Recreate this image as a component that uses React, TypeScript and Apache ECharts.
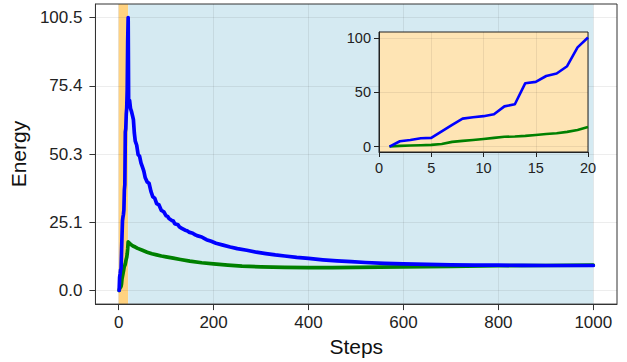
import React, { useEffect, useRef } from "react";
import * as echarts from "echarts";

// ---- data ----
const insetSteps = [1, 2, 3, 4, 5, 6, 7, 8, 9, 10, 11, 12, 13, 14, 15, 16, 17, 18, 19, 20];
const insetBlue = [0, 4.9, 6.1, 7.6, 8, 14, 20, 25.7, 27, 28, 29.7, 37, 39, 58.4, 59.6, 65, 67.3, 74, 91.4, 100.52];
const insetGreen = [0, 0.6, 1, 1.2, 1.5, 2.4, 4.3, 5.2, 6.1, 7, 8, 9, 9.2, 9.8, 10.7, 11.6, 12.2, 13.5, 15.3, 17.9];

const blueDecaySteps = [21, 23, 25, 27, 29, 31, 33, 35, 38, 41, 44, 47, 50, 53, 56, 60, 64, 68, 72, 76, 80, 85, 90, 95, 100, 103, 106, 112, 115, 118, 125, 128, 132, 140, 144, 148, 156, 160, 165, 175, 180, 185, 195, 205, 220, 235, 250, 270, 290, 310, 330, 350, 375, 400, 430, 460, 490, 520, 560, 600, 650, 700, 750, 800, 850, 900, 950, 1000];
const blueDecayValues = [69, 70, 67, 66, 64.5, 63, 58, 55, 53.5, 50, 49.5, 47, 45.5, 44, 41.5, 40, 39.5, 36.5, 34.5, 34, 32, 31.5, 29.5, 29, 27.5, 27.3, 26.5, 25.8, 25.6, 24.6, 24.2, 23.4, 23, 22.2, 22, 21.5, 21.1, 20.6, 20.2, 19.7, 19.2, 18.7, 18.1, 17.4, 16.7, 16.0, 15.4, 14.8, 14.1, 13.6, 13.1, 12.7, 12.2, 11.8, 11.3, 10.9, 10.6, 10.3, 10.0, 9.8, 9.6, 9.45, 9.35, 9.3, 9.25, 9.2, 9.2, 9.2];

const greenDecaySteps = [22, 25, 30, 35, 40, 50, 60, 70, 80, 90, 100, 115, 130, 150, 175, 200, 230, 260, 300, 350, 400, 450, 500, 600, 700, 800, 900, 1000];
const greenDecayValues = [17.5, 17.0, 16.4, 16.0, 15.5, 14.8, 14.1, 13.5, 13.1, 12.7, 12.4, 11.9, 11.4, 10.8, 10.2, 9.8, 9.35, 9.0, 8.7, 8.5, 8.45, 8.45, 8.5, 8.7, 8.9, 9.1, 9.2, 9.3];

const xTicks = [0, 200, 400, 600, 800, 1000];
const yTicks = [0, 25.13, 50.26, 75.39, 100.52];
const insetYTicks = [0, 50, 100];
const spanEdges = [0, 20, 1000];

// ---- axis ranges ----
const X_MIN = -48.95;
const X_MAX = 1049.95;
const Y_MIN = -5.026;
const Y_MAX = 105.546;
const IX_MIN = 0;
const IX_MAX = 20;

const FONT = "Liberation Sans, Arial, sans-serif";

export default function App() {
  const ref = useRef<HTMLDivElement>(null);

  useEffect(() => {
    if (!ref.current) return;
    const chart = echarts.init(ref.current, undefined, { renderer: "svg" });

    const insetBluePairs = insetSteps.map((s, i) => [s, insetBlue[i]]);
    const insetGreenPairs = insetSteps.map((s, i) => [s, insetGreen[i]]);
    const mainBlue = insetBluePairs.concat(blueDecaySteps.map((s, i) => [s, blueDecayValues[i]]));
    const mainGreen = insetGreenPairs.concat(greenDecaySteps.map((s, i) => [s, greenDecayValues[i]]));

    const gridLine = { show: true, lineStyle: { color: "rgba(0,0,0,0.07)", width: 1 } };

    chart.setOption({
      animation: false,
      grid: [
        {
          left: 95, right: 10, top: 4, bottom: 57,
          show: true, borderColor: "#333", borderWidth: 1,
          backgroundColor: "transparent", z: 3,
        },
        {
          left: 379, right: 39, top: 32, bottom: 210,
          show: true, borderColor: "#222", borderWidth: 1,
          backgroundColor: "#FEE4B4", z: 5,
        },
      ],
      xAxis: [
        {
          type: "value", gridIndex: 0, min: X_MIN, max: X_MAX, z: 3,
          axisLine: { show: true, onZero: false, lineStyle: { color: "#333" } },
          axisTick: { show: true, customValues: xTicks, length: 6, lineStyle: { color: "#333" } },
          axisLabel: {
            customValues: xTicks, fontSize: 17, color: "#222", margin: 10, fontFamily: FONT,
            formatter: (v: number) => String(v),
          },
          splitLine: gridLine,
          name: "Steps", nameLocation: "middle", nameGap: 29,
          nameTextStyle: { fontSize: 21, color: "#111", fontFamily: FONT },
        },
        {
          type: "value", gridIndex: 1, min: IX_MIN, max: IX_MAX, interval: 5, z: 6,
          axisLine: { show: true, onZero: false, lineStyle: { color: "#222" } },
          axisTick: { show: true, length: 5, lineStyle: { color: "#222" } },
          axisLabel: { fontSize: 14.5, color: "#222", margin: 8, fontFamily: FONT },
          splitLine: gridLine,
        },
      ],
      yAxis: [
        {
          type: "value", gridIndex: 0, min: Y_MIN, max: Y_MAX, z: 3,
          axisLine: { show: true, onZero: false, lineStyle: { color: "#333" } },
          axisTick: { show: true, customValues: yTicks, length: 6, lineStyle: { color: "#333" } },
          axisLabel: {
            customValues: yTicks, fontSize: 17, color: "#222", margin: 13, fontFamily: FONT,
            formatter: (v: number) => v.toFixed(1),
          },
          splitLine: gridLine,
          name: "Energy", nameLocation: "middle", nameGap: 51,
          nameTextStyle: { fontSize: 21, color: "#111", fontFamily: FONT },
        },
        {
          type: "value", gridIndex: 1, min: Y_MIN, max: Y_MAX, z: 6,
          axisLine: { show: true, onZero: false, lineStyle: { color: "#222" } },
          axisTick: { show: true, customValues: insetYTicks, length: 5, lineStyle: { color: "#222" } },
          axisLabel: { customValues: insetYTicks, fontSize: 14.5, color: "#222", margin: 8, fontFamily: FONT },
          splitLine: gridLine,
        },
      ],
      series: [
        {
          type: "line", xAxisIndex: 0, yAxisIndex: 0, data: [], z: 1, silent: true,
          markArea: {
            silent: true,
            data: [
              [
                { xAxis: spanEdges[0], yAxis: Y_MIN, itemStyle: { color: "#FFD280" } },
                { xAxis: spanEdges[1], yAxis: Y_MAX },
              ],
              [
                { xAxis: spanEdges[1], yAxis: Y_MIN, itemStyle: { color: "#D5EAF2" } },
                { xAxis: spanEdges[2], yAxis: Y_MAX },
              ],
            ],
          },
        },
        {
          type: "line", xAxisIndex: 0, yAxisIndex: 0, data: mainGreen, z: 4,
          showSymbol: false, symbol: "none",
          lineStyle: { color: "#008000", width: 3.7, join: "round", cap: "round" },
        },
        {
          type: "line", xAxisIndex: 0, yAxisIndex: 0, data: mainBlue, z: 4,
          showSymbol: false, symbol: "none",
          lineStyle: { color: "#0000FF", width: 3.7, join: "round", cap: "round" },
        },
        {
          type: "line", xAxisIndex: 1, yAxisIndex: 1, data: insetGreenPairs, z: 7,
          showSymbol: false, symbol: "none",
          lineStyle: { color: "#008000", width: 2.6, join: "round" },
        },
        {
          type: "line", xAxisIndex: 1, yAxisIndex: 1, data: insetBluePairs, z: 7,
          showSymbol: false, symbol: "none",
          lineStyle: { color: "#0000FF", width: 2.6, join: "round" },
        },
      ],
    });

    return () => chart.dispose();
  }, []);

  return (
    <div
      ref={ref}
      style={{ position: "absolute", left: 0, top: 0, width: 627, height: 362, background: "#fff" }}
    />
  );
}
